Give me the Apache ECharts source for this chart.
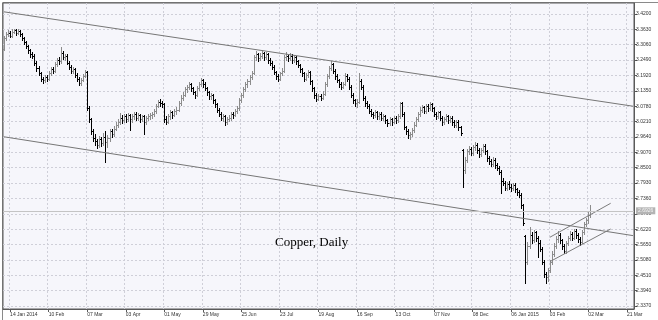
<!DOCTYPE html>
<html><head><meta charset="utf-8">
<script src="https://cdn.jsdelivr.net/npm/echarts@6/dist/echarts.min.js"></script>
<style>html,body{margin:0;padding:0;background:#fff}#c{width:658px;height:320px}</style>
</head><body><div id="c"></div>
<script>
// ---- data ----
const xLabels = ['14 Jan 2014','10 Feb','07 Mar','03 Apr','01 May','29 May','25 Jun','23 Jul','19 Aug','16 Sep','13 Oct','07 Nov','08 Dec','06 Jan 2015','03 Feb','02 Mar','21 Mar'];
const yTicks = [3.4200,3.3630,3.3060,3.2490,3.1920,3.1350,3.0780,3.0210,2.9640,2.9070,2.8500,2.7930,2.7360,2.6790,2.6220,2.5650,2.5080,2.4510,2.3940,2.3370];
const opens = [
3.290,3.330,3.345,3.350,3.340,3.355,3.360,3.350,3.358,3.345,
3.330,3.315,3.300,3.285,3.270,3.265,3.240,3.220,3.200,3.180,
3.175,3.185,3.180,3.200,3.215,3.210,3.235,3.250,3.245,3.275,
3.260,3.265,3.240,3.225,3.210,3.215,3.195,3.180,3.165,3.175,
3.190,3.205,3.070,3.030,2.985,2.960,2.950,2.935,2.955,2.940,
2.965,2.945,2.960,2.985,2.975,2.995,3.010,3.020,3.035,3.025,
3.040,3.030,3.045,3.030,3.040,3.050,3.035,3.045,3.030,3.040,
3.020,3.035,3.040,3.045,3.050,3.060,3.080,3.095,3.090,3.085,
3.030,3.020,3.040,3.055,3.045,3.060,3.065,3.090,3.110,3.120,
3.140,3.150,3.160,3.145,3.130,3.120,3.145,3.160,3.175,3.160,
3.145,3.130,3.115,3.120,3.100,3.085,3.065,3.050,3.035,3.040,
3.020,3.030,3.035,3.050,3.045,3.060,3.070,3.100,3.120,3.140,
3.160,3.170,3.185,3.200,3.260,3.270,3.255,3.265,3.275,3.260,
3.270,3.250,3.240,3.225,3.205,3.190,3.180,3.200,3.210,3.260,
3.265,3.255,3.265,3.250,3.260,3.245,3.230,3.215,3.200,3.180,
3.195,3.205,3.170,3.145,3.120,3.105,3.115,3.110,3.125,3.160,
3.190,3.220,3.235,3.210,3.190,3.175,3.160,3.150,3.160,3.190,
3.180,3.150,3.120,3.100,3.090,3.095,3.170,3.150,3.110,3.090,
3.080,3.060,3.050,3.045,3.055,3.040,3.050,3.035,3.040,3.025,
3.015,3.030,3.020,3.035,3.025,3.040,3.090,3.050,3.000,2.985,
2.970,2.975,2.990,3.010,3.030,3.050,3.065,3.075,3.060,3.080,
3.070,3.085,3.070,3.050,3.040,3.055,3.035,3.020,3.030,3.040,
3.025,3.035,3.020,3.010,3.020,3.000,2.915,2.840,2.880,2.910,
2.920,2.905,2.925,2.935,2.915,2.900,2.915,2.930,2.910,2.885,
2.875,2.865,2.880,2.860,2.850,2.835,2.800,2.795,2.775,2.790,
2.780,2.775,2.785,2.770,2.760,2.750,2.710,2.595,2.500,2.560,
2.600,2.580,2.610,2.590,2.570,2.550,2.500,2.455,2.445,2.470,
2.500,2.530,2.560,2.585,2.600,2.580,2.560,2.540,2.570,2.590,
2.605,2.590,2.615,2.600,2.585,2.575,2.610,2.640,2.655,2.675];
const closes = [
3.330,3.345,3.350,3.340,3.355,3.360,3.350,3.358,3.345,3.330,
3.315,3.300,3.285,3.270,3.265,3.240,3.220,3.200,3.180,3.175,
3.185,3.180,3.200,3.215,3.210,3.235,3.250,3.245,3.275,3.260,
3.265,3.240,3.225,3.210,3.215,3.195,3.180,3.165,3.175,3.190,
3.205,3.070,3.030,2.985,2.960,2.950,2.935,2.955,2.940,2.965,
2.945,2.960,2.985,2.975,2.995,3.010,3.020,3.035,3.025,3.040,
3.030,3.045,3.030,3.040,3.050,3.035,3.045,3.030,3.040,3.020,
3.035,3.040,3.045,3.050,3.060,3.080,3.095,3.090,3.085,3.030,
3.020,3.040,3.055,3.045,3.060,3.065,3.090,3.110,3.120,3.140,
3.150,3.160,3.145,3.130,3.120,3.145,3.160,3.175,3.160,3.145,
3.130,3.115,3.120,3.100,3.085,3.065,3.050,3.035,3.040,3.020,
3.030,3.035,3.050,3.045,3.060,3.070,3.100,3.120,3.140,3.160,
3.170,3.185,3.200,3.260,3.270,3.255,3.265,3.275,3.260,3.270,
3.250,3.240,3.225,3.205,3.190,3.180,3.200,3.210,3.260,3.265,
3.255,3.265,3.250,3.260,3.245,3.230,3.215,3.200,3.180,3.195,
3.205,3.170,3.145,3.120,3.105,3.115,3.110,3.125,3.160,3.190,
3.220,3.235,3.210,3.190,3.175,3.160,3.150,3.160,3.190,3.180,
3.150,3.120,3.100,3.090,3.095,3.170,3.150,3.110,3.090,3.080,
3.060,3.050,3.045,3.055,3.040,3.050,3.035,3.040,3.025,3.015,
3.030,3.020,3.035,3.025,3.040,3.090,3.050,3.000,2.985,2.970,
2.975,2.990,3.010,3.030,3.050,3.065,3.075,3.060,3.080,3.070,
3.085,3.070,3.050,3.040,3.055,3.035,3.020,3.030,3.040,3.025,
3.035,3.020,3.010,3.020,3.000,2.980,2.840,2.880,2.910,2.920,
2.905,2.925,2.935,2.915,2.900,2.915,2.930,2.910,2.885,2.875,
2.865,2.880,2.860,2.850,2.835,2.800,2.795,2.775,2.790,2.780,
2.775,2.785,2.770,2.760,2.750,2.710,2.645,2.500,2.560,2.600,
2.580,2.610,2.590,2.570,2.550,2.500,2.455,2.445,2.470,2.500,
2.530,2.560,2.585,2.600,2.580,2.560,2.540,2.570,2.590,2.605,
2.590,2.615,2.600,2.585,2.575,2.610,2.640,2.655,2.675,2.690];
const lows = [
3.287,3.322,3.338,3.333,3.334,3.348,3.342,3.345,3.338,3.322,
3.308,3.293,3.276,3.262,3.255,3.232,3.210,3.192,3.172,3.165,
3.168,3.170,3.176,3.195,3.202,3.206,3.228,3.236,3.240,3.252,
3.250,3.234,3.216,3.202,3.200,3.186,3.172,3.155,3.158,3.170,
3.185,3.065,3.020,2.975,2.950,2.935,2.922,2.928,2.930,2.935,
2.871,2.925,2.950,2.962,2.968,2.988,3.002,3.012,3.015,3.018,
3.020,3.024,2.990,3.020,3.030,3.025,3.028,3.018,3.022,2.975,
3.012,3.026,3.030,3.036,3.042,3.054,3.074,3.080,3.074,3.020,
3.012,3.014,3.032,3.036,3.040,3.050,3.060,3.084,3.102,3.114,
3.132,3.142,3.136,3.122,3.110,3.116,3.138,3.152,3.150,3.138,
3.120,3.106,3.104,3.090,3.076,3.056,3.040,3.026,3.024,3.008,
3.012,3.022,3.028,3.036,3.040,3.052,3.064,3.094,3.112,3.134,
3.150,3.162,3.178,3.196,3.250,3.246,3.248,3.256,3.250,3.252,
3.240,3.230,3.216,3.196,3.180,3.170,3.174,3.192,3.205,3.250,
3.246,3.248,3.240,3.242,3.236,3.222,3.206,3.190,3.170,3.174,
3.186,3.162,3.136,3.110,3.098,3.100,3.102,3.104,3.120,3.154,
3.184,3.212,3.202,3.180,3.166,3.150,3.142,3.144,3.156,3.170,
3.142,3.112,3.090,3.078,3.076,3.090,3.140,3.100,3.080,3.070,
3.052,3.040,3.034,3.038,3.030,3.032,3.026,3.026,3.016,3.004,
3.008,3.010,3.014,3.014,3.018,3.034,3.042,2.992,2.975,2.960,
2.958,2.968,2.984,3.004,3.024,3.042,3.056,3.052,3.054,3.060,
3.064,3.062,3.042,3.030,3.034,3.026,3.010,3.012,3.022,3.016,
3.018,3.010,3.000,3.002,2.990,2.970,2.778,2.832,2.872,2.900,
2.896,2.898,2.916,2.906,2.890,2.894,2.908,2.900,2.876,2.864,
2.856,2.858,2.850,2.842,2.826,2.756,2.784,2.766,2.768,2.770,
2.764,2.768,2.760,2.750,2.741,2.700,2.637,2.422,2.492,2.552,
2.570,2.574,2.578,2.520,2.540,2.492,2.446,2.422,2.430,2.462,
2.494,2.522,2.552,2.576,2.570,2.550,2.532,2.534,2.562,2.582,
2.580,2.584,2.590,2.574,2.565,2.570,2.604,2.632,2.646,2.668];
const highs = [
3.338,3.352,3.362,3.356,3.363,3.366,3.364,3.365,3.362,3.350,
3.336,3.320,3.305,3.290,3.280,3.270,3.246,3.228,3.206,3.188,
3.195,3.192,3.208,3.224,3.222,3.242,3.258,3.262,3.297,3.282,
3.272,3.270,3.246,3.232,3.224,3.220,3.200,3.186,3.182,3.198,
3.212,3.210,3.080,3.036,2.992,2.975,2.958,2.966,2.962,2.978,
2.985,2.972,2.992,2.995,3.004,3.018,3.030,3.053,3.045,3.050,
3.048,3.052,3.050,3.048,3.058,3.056,3.052,3.050,3.046,3.044,
3.042,3.048,3.052,3.058,3.068,3.088,3.102,3.104,3.098,3.090,
3.040,3.048,3.064,3.060,3.066,3.074,3.098,3.118,3.130,3.148,
3.158,3.168,3.165,3.150,3.136,3.152,3.168,3.183,3.180,3.166,
3.150,3.136,3.128,3.125,3.106,3.090,3.070,3.056,3.048,3.046,
3.038,3.044,3.058,3.056,3.068,3.080,3.108,3.128,3.148,3.168,
3.180,3.192,3.208,3.268,3.282,3.276,3.274,3.285,3.280,3.280,
3.276,3.256,3.246,3.230,3.210,3.196,3.206,3.218,3.268,3.280,
3.272,3.274,3.270,3.268,3.266,3.250,3.236,3.220,3.205,3.202,
3.212,3.210,3.176,3.150,3.126,3.122,3.124,3.134,3.168,3.198,
3.228,3.245,3.240,3.216,3.196,3.180,3.166,3.168,3.200,3.196,
3.186,3.156,3.126,3.106,3.104,3.200,3.178,3.156,3.116,3.096,
3.086,3.066,3.058,3.064,3.060,3.058,3.056,3.048,3.046,3.030,
3.038,3.036,3.042,3.040,3.048,3.094,3.094,3.056,3.006,2.992,
2.984,2.998,3.018,3.038,3.058,3.074,3.084,3.080,3.088,3.086,
3.094,3.090,3.076,3.056,3.062,3.060,3.040,3.038,3.048,3.046,
3.042,3.040,3.026,3.028,3.026,3.006,2.920,2.890,2.918,2.930,
2.928,2.934,2.945,2.940,2.922,2.924,2.938,2.936,2.916,2.892,
2.882,2.888,2.886,2.866,2.856,2.842,2.812,2.802,2.798,2.800,
2.790,2.794,2.792,2.776,2.766,2.756,2.716,2.600,2.575,2.630,
2.612,2.620,2.616,2.596,2.580,2.556,2.506,2.462,2.478,2.508,
2.540,2.570,2.596,2.615,2.606,2.586,2.566,2.578,2.598,2.616,
2.612,2.624,2.622,2.606,2.592,2.618,2.648,2.664,2.684,2.712];
const lastPrice = 2.6926;
// trend lines: [barIndex, price]
const upperChannel = [[0, 3.428], [310, 3.078]];
const lowerChannel = [[0, 2.9645], [310, 2.598]];
const smallUpper = [[269, 2.5917], [299, 2.7179]];
const smallLower = [[269, 2.5012], [299, 2.6225]];

// ---- build ----
const N = 311, FIRST = 3, STEP = 19;
const categories = [];
for (let i = 0; i < N; i++) categories.push('');
xLabels.forEach((l, k) => { categories[FIRST + k * STEP] = l; });
const bars = closes.map((c, i) => [i, opens[i], c, lows[i], highs[i]]);
const showIdx = (idx) => categories[idx] !== '';

const chart = echarts.init(document.getElementById('c'), null, {renderer: 'canvas'});
const trend = (data, color) => ({
  type: 'line', data: data, symbol: 'none', silent: true, z: 3,
  lineStyle: {color: color, width: 1}
});
chart.setOption({
  animation: false,
  backgroundColor: '#ffffff',
  grid: {left: 3, right: 24, top: 3, bottom: 11, show: true, backgroundColor: '#f6f6fb', borderColor: '#5a5a5a', borderWidth: 1},
  xAxis: {
    type: 'category', data: categories, boundaryGap: true,
    axisLine: {show: true, lineStyle: {color: '#5a5a5a'}},
    axisTick: {show: true, alignWithLabel: true, interval: showIdx, length: 3, lineStyle: {color: '#5a5a5a'}},
    axisLabel: {interval: showIdx, align: 'left', margin: 3, fontSize: 5, color: '#333', fontFamily: 'Liberation Sans'},
    splitLine: {show: true, interval: showIdx, lineStyle: {color: '#cfcfd8', type: [2, 2], width: 1}}
  },
  yAxis: {
    type: 'value', position: 'right', min: 2.3258, max: 3.4608,
    axisLine: {show: true, lineStyle: {color: '#5a5a5a'}},
    axisTick: {show: true, length: 3, customValues: yTicks, lineStyle: {color: '#5a5a5a'}},
    axisLabel: {customValues: yTicks, formatter: v => v.toFixed(4), margin: 2, fontSize: 5, color: '#333', fontFamily: 'Liberation Sans'},
    splitLine: {show: true, lineStyle: {color: '#cfcfd8', type: [2, 2], width: 1}}
  },
  graphic: [
    {type: 'text', left: 275, top: 236, z: 10, style: {text: 'Copper, Daily', font: '13px "Liberation Serif"', fill: '#000'}},
    {type: 'rect', left: 0, top: 0, z: -1, shape: {x: 0.5, y: 0.5, width: 657, height: 319}, style: {fill: 'none', stroke: '#8a8a8a', lineWidth: 1}}
  ],
  series: [
    {
      type: 'custom', z: 2,
      data: bars,
      encode: {x: 0, y: [1, 2, 3, 4]},
      renderItem: function (params, api) {
        const i = api.value(0), o = api.value(1), c = api.value(2), l = api.value(3), h = api.value(4);
        const ph = api.coord([i, h]), pl = api.coord([i, l]), po = api.coord([i, o]), pc = api.coord([i, c]);
        const X = Math.round(ph[0]);
        const yh = Math.round(ph[1]), yl = Math.round(pl[1]);
        const col = c >= o ? '#8c8c8c' : '#000000';
        return {type: 'group', children: [
          {type: 'rect', shape: {x: X, y: yh, width: 1, height: Math.max(1, yl - yh + 1)}, style: {fill: col}},
          {type: 'rect', shape: {x: X - 1, y: Math.round(po[1]), width: 1, height: 1}, style: {fill: col}},
          {type: 'rect', shape: {x: X + 1, y: Math.round(pc[1]), width: 1, height: 1}, style: {fill: col}}
        ]};
      },
      markLine: {
        silent: true, symbol: 'none', animation: false,
        lineStyle: {color: '#c4c4c4', type: 'solid', width: 1},
        label: {show: true, position: 'end', distance: 2, formatter: () => lastPrice.toFixed(4), fontSize: 5, color: '#f4f4f4', backgroundColor: '#b4b4b4', padding: [1, 2], fontFamily: 'Liberation Sans'},
        data: [{yAxis: lastPrice}]
      }
    },
    trend(upperChannel, '#767676'),
    trend(lowerChannel, '#767676'),
    trend(smallUpper, '#7c7c7c'),
    trend(smallLower, '#7c7c7c')
  ]
});
</script></body></html>
